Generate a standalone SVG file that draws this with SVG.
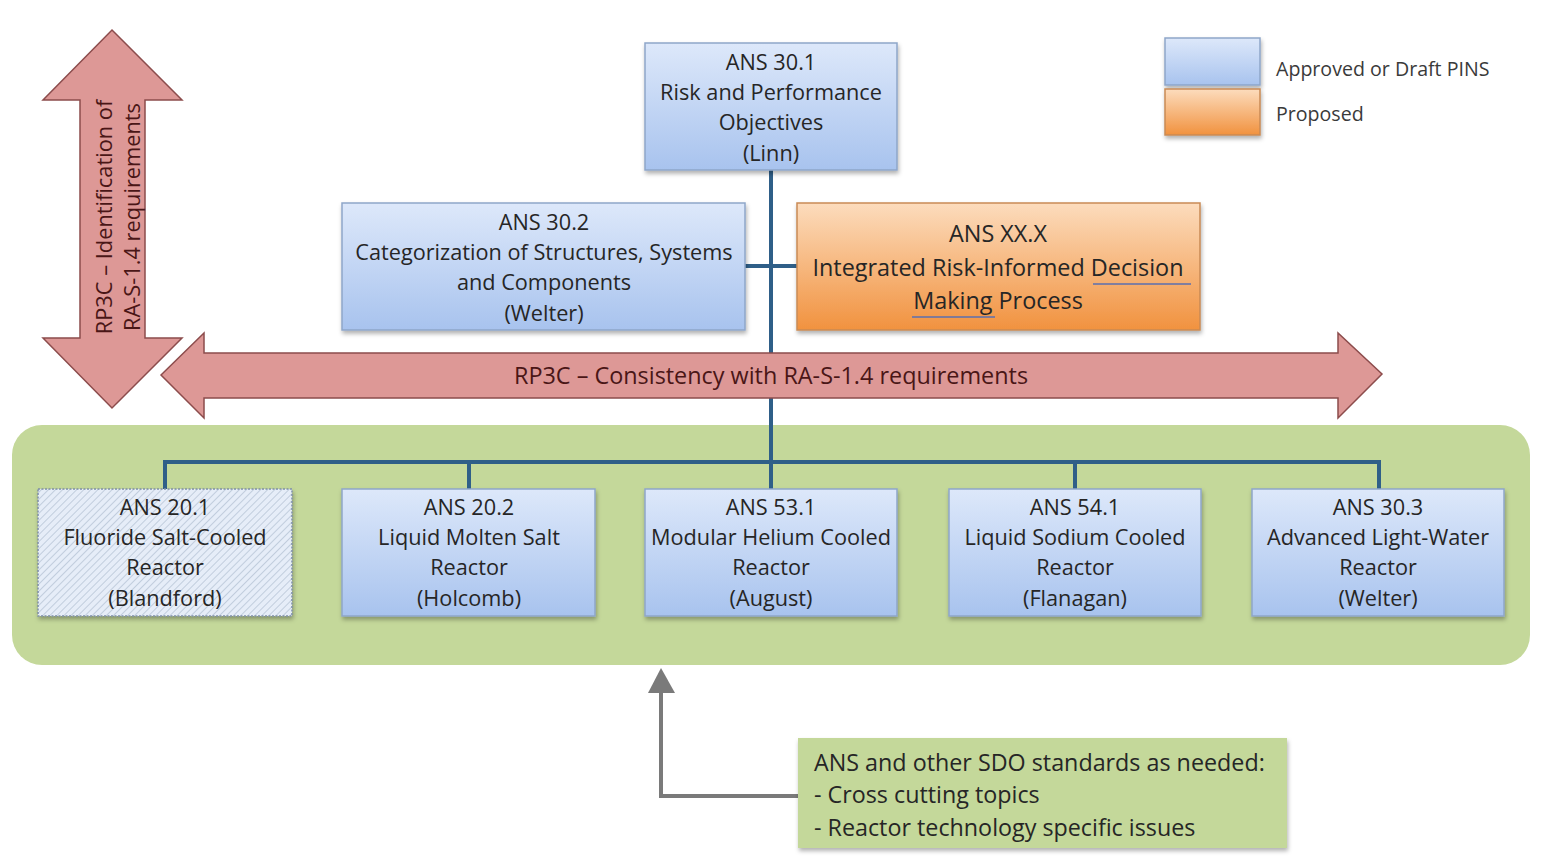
<svg xmlns="http://www.w3.org/2000/svg" width="1545" height="859" viewBox="0 0 1545 859">
<defs>
<linearGradient id="gBlue" x1="0" y1="0" x2="0" y2="1"><stop offset="0" stop-color="#dde8fa"/><stop offset="1" stop-color="#a8c3ee"/></linearGradient>
<linearGradient id="gOrange" x1="0" y1="0" x2="0" y2="1"><stop offset="0" stop-color="#fcdcbd"/><stop offset="1" stop-color="#f1923f"/></linearGradient>
<pattern id="hatch" width="5" height="5" patternUnits="userSpaceOnUse" patternTransform="rotate(45)"><rect width="5" height="5" fill="#e6edf8"/><line x1="0" y1="0" x2="0" y2="5" stroke="#a9b8cc" stroke-width="1.2"/></pattern>
<filter id="sh" x="-10%" y="-10%" width="120%" height="130%"><feDropShadow dx="1" dy="3" stdDeviation="2" flood-color="#000" flood-opacity="0.3"/></filter>
<style>
.t{font-family:"Open Sans","Liberation Sans",sans-serif;font-size:21.7px;fill:#262626;text-anchor:middle}
.tl{font-family:"Open Sans","Liberation Sans",sans-serif;font-size:23.3px;fill:#262626}
.lg{font-family:"Open Sans","Liberation Sans",sans-serif;font-size:19.6px;fill:#3a3a3a}
.blue{fill:url(#gBlue);stroke:#8ea6c9;stroke-width:1.5;filter:url(#sh)}
.orange{fill:url(#gOrange);stroke:#c98a55;stroke-width:1.5;filter:url(#sh)}
.arr{fill:#dd9896;stroke:#8c4c4c;stroke-width:1.5}
.at{font-family:"Open Sans","Liberation Sans",sans-serif;fill:#4a1616;text-anchor:middle}
.con{stroke:#2f5f88;stroke-width:4;fill:none}
</style>
</defs>
<rect width="1545" height="859" fill="#ffffff"/>

<!-- green panel -->
<rect x="12" y="425" width="1518" height="240" rx="30" fill="#c4d89a"/>

<!-- legend -->
<g id="legend">
<rect x="1165" y="38" width="95" height="47" class="blue"/>
<rect x="1165" y="89" width="95" height="46" class="orange"/>
<text x="1276" y="76" class="lg">Approved or Draft PINS</text>
<text x="1276" y="121" class="lg">Proposed</text>
</g>

<!-- connectors -->
<g id="connectors">
<line class="con" x1="771" y1="170" x2="771" y2="462"/>
<line class="con" x1="745" y1="266" x2="797" y2="266"/>
<line class="con" x1="165" y1="462" x2="1379" y2="462"/>
<line class="con" x1="165" y1="460" x2="165" y2="490"/>
<line class="con" x1="469" y1="460" x2="469" y2="490"/>
<line class="con" x1="771" y1="460" x2="771" y2="490"/>
<line class="con" x1="1075" y1="460" x2="1075" y2="490"/>
<line class="con" x1="1379" y1="460" x2="1379" y2="490"/>
<polyline points="800,796 661,796 661,690" fill="none" stroke="#7a7a7a" stroke-width="4"/>
<path d="M648,693 L661,668 L675,693 Z" fill="#7a7a7a"/>
</g>

<!-- vertical arrow -->
<g id="arrow-identification">
<path class="arr" d="M112,30 L182,100 L145,100 L145,338 L182,338 L112,408 L43,338 L80,338 L80,100 L43,100 Z"/>
<text class="at" transform="translate(104,217) rotate(-90)" y="8" style="font-size:21.8px">RP3C – Identification of</text>
<text class="at" transform="translate(132,217) rotate(-90)" y="8" style="font-size:21.8px">RA-S-1.4 requirements</text>
</g>

<!-- horizontal arrow -->
<g id="arrow-consistency">
<path class="arr" d="M161,375 L204,333 L204,353 L1338,353 L1338,333 L1382,374 L1338,418 L1338,398 L204,398 L204,418 Z"/>
<text class="at" x="771" y="384" style="font-size:23.4px">RP3C – Consistency with RA-S-1.4 requirements</text>
</g>

<g id="n301">
<rect x="645" y="43" width="252" height="127" class="blue"/>
<text class="t" x="771" y="70">ANS 30.1</text>
<text class="t" x="771" y="100">Risk and Performance</text>
<text class="t" x="771" y="130">Objectives</text>
<text class="t" x="771" y="161">(Linn)</text>
</g>

<g id="n302">
<rect x="342" y="203" width="403" height="127" class="blue"/>
<text class="t" x="544" y="230">ANS 30.2</text>
<text class="t" x="544" y="260">Categorization of Structures, Systems</text>
<text class="t" x="544" y="290">and Components</text>
<text class="t" x="544" y="321">(Welter)</text>
</g>

<g id="nxx">
<rect x="797" y="203" width="403" height="127" class="orange"/>
<text class="t" x="998" y="242" style="font-size:23.4px">ANS XX.X</text>
<text class="t" x="998" y="276" style="font-size:23.4px">Integrated Risk-Informed Decision</text>
<text class="t" x="998" y="309" style="font-size:23.4px">Making Process</text>
<line x1="1093" y1="284" x2="1191" y2="284" stroke="#5a6fb0" stroke-width="1.5"/>
<line x1="912" y1="317" x2="995" y2="317" stroke="#5a6fb0" stroke-width="1.5"/>
</g>

<g id="n201">
<rect x="38" y="489" width="254" height="127" fill="url(#hatch)" stroke="#7f8fa5" stroke-width="1.5" stroke-dasharray="2,1.5" filter="url(#sh)"/>
<text class="t" x="165" y="515">ANS 20.1</text>
<text class="t" x="165" y="545">Fluoride Salt-Cooled</text>
<text class="t" x="165" y="575">Reactor</text>
<text class="t" x="165" y="606">(Blandford)</text>
</g>

<g id="n202">
<rect x="342" y="489" width="253" height="127" class="blue"/>
<text class="t" x="469" y="515">ANS 20.2</text>
<text class="t" x="469" y="545">Liquid Molten Salt</text>
<text class="t" x="469" y="575">Reactor</text>
<text class="t" x="469" y="606">(Holcomb)</text>
</g>

<g id="n531">
<rect x="645" y="489" width="252" height="127" class="blue"/>
<text class="t" x="771" y="515">ANS 53.1</text>
<text class="t" x="771" y="545">Modular Helium Cooled</text>
<text class="t" x="771" y="575">Reactor</text>
<text class="t" x="771" y="606">(August)</text>
</g>

<g id="n541">
<rect x="949" y="489" width="252" height="127" class="blue"/>
<text class="t" x="1075" y="515">ANS 54.1</text>
<text class="t" x="1075" y="545">Liquid Sodium Cooled</text>
<text class="t" x="1075" y="575">Reactor</text>
<text class="t" x="1075" y="606">(Flanagan)</text>
</g>

<g id="n303">
<rect x="1252" y="489" width="252" height="127" class="blue"/>
<text class="t" x="1378" y="515">ANS 30.3</text>
<text class="t" x="1378" y="545">Advanced Light-Water</text>
<text class="t" x="1378" y="575">Reactor</text>
<text class="t" x="1378" y="606">(Welter)</text>
</g>

<g id="nsdo">
<rect x="798" y="738" width="489" height="110" fill="#c4d89a" filter="url(#sh)"/>
<text class="tl" x="814" y="771">ANS and other SDO standards as needed:</text>
<text class="tl" x="814" y="803">- Cross cutting topics</text>
<text class="tl" x="814" y="836">- Reactor technology specific issues</text>
</g>
</svg>
